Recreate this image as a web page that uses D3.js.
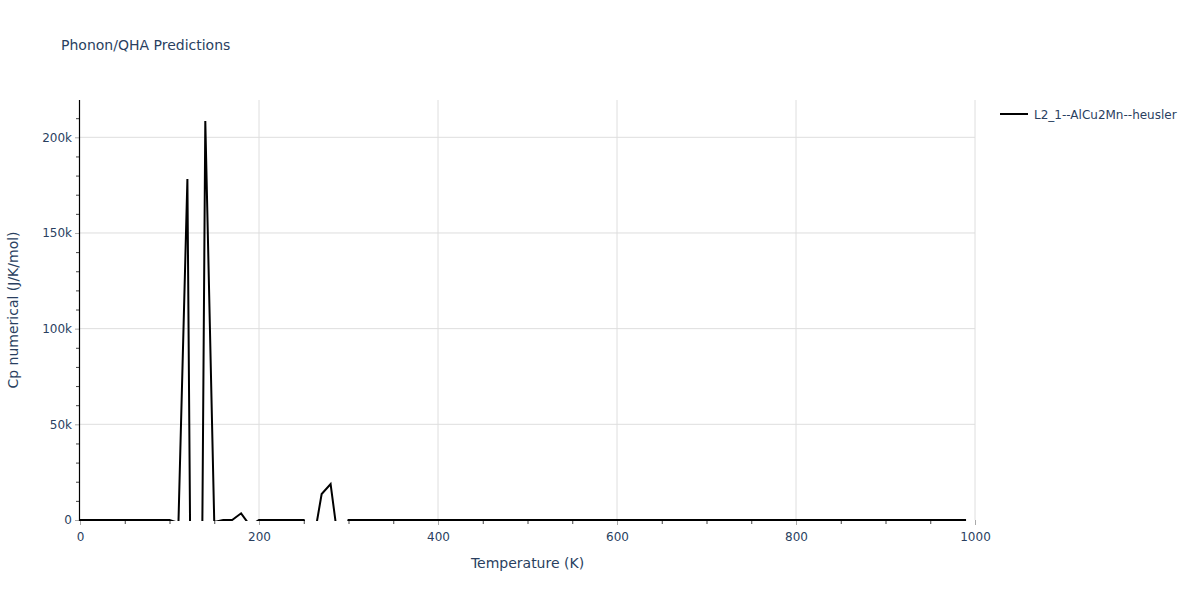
<!DOCTYPE html>
<html>
<head>
<meta charset="utf-8">
<script src="https://cdn.jsdelivr.net/npm/d3@7"></script>
<style>
  html, body { margin: 0; padding: 0; background: #fff; }
  text { font-family: "DejaVu Sans", Verdana, sans-serif; fill: #2a3f5f; }
</style>
</head>
<body>
<svg id="chart" width="1200" height="600"></svg>
<script>
// ---- data ----
const chartTitle = "Phonon/QHA Predictions";
const seriesName = "L2_1--AlCu2Mn--heusler";
const xLabel = "Temperature (K)";
const yLabel = "Cp numerical (J/K/mol)";

const temperatures = [
  0, 10, 20, 30, 40, 50, 60, 70, 80, 90,
  100, 110, 120, 130, 140, 150, 160, 170, 180, 190,
  200, 210, 220, 230, 240, 250, 260, 270, 280, 290,
  300, 310, 320, 330, 340, 350, 360, 370, 380, 390,
  400, 410, 420, 430, 440, 450, 460, 470, 480, 490,
  500, 510, 520, 530, 540, 550, 560, 570, 580, 590,
  600, 610, 620, 630, 640, 650, 660, 670, 680, 690,
  700, 710, 720, 730, 740, 750, 760, 770, 780, 790,
  800, 810, 820, 830, 840, 850, 860, 870, 880, 890,
  900, 910, 920, 930, 940, 950, 960, 970, 980, 990
];
const cpValues = [
  0, 0, 0, 0, 0, 0, 0, 0, 0, 0,
  0, -1500, 178200, -430000, 208500, -1000, 0, 0, 3500, -3000,
  0, 0, 0, 0, 0, 0, -13600, 13600, 18800, -16700,
  0, 0, 0, 0, 0, 0, 0, 0, 0, 0,
  0, 0, 0, 0, 0, 0, 0, 0, 0, 0,
  0, 0, 0, 0, 0, 0, 0, 0, 0, 0,
  0, 0, 0, 0, 0, 0, 0, 0, 0, 0,
  0, 0, 0, 0, 0, 0, 0, 0, 0, 0,
  0, 0, 0, 0, 0, 0, 0, 0, 0, 0,
  0, 0, 0, 0, 0, 0, 0, 0, 0, 0
];

const xTicks = [0, 200, 400, 600, 800, 1000];
const xMinorTicks = [50, 100, 150, 250, 300, 350, 450, 500, 550, 650, 700, 750, 850, 900, 950];
const yTicks = [0, 50000, 100000, 150000, 200000];
const yTickLabels = ["0", "50k", "100k", "150k", "200k"];
const yMinorTicks = [10000, 20000, 30000, 40000, 60000, 70000, 80000, 90000, 110000, 120000,
  130000, 140000, 160000, 170000, 180000, 190000, 210000];
const xDomain = [0, 1000];
const yDomain = [0, 219500];

// ---- layout ----
const svg = d3.select("#chart");
const L = 80, R = 975, T = 100, B = 520;
const FONT = '"DejaVu Sans", Verdana, sans-serif';

const x = d3.scaleLinear().domain(xDomain).range([L, R]);
const y = d3.scaleLinear().domain(yDomain).range([B, T]);

// gridlines
svg.append("g").selectAll("line").data(xTicks.filter(d => d > 0))
  .join("line")
  .attr("x1", d => x(d)).attr("x2", d => x(d))
  .attr("y1", T).attr("y2", B)
  .attr("stroke", "#dedede").attr("stroke-width", 1);
svg.append("g").selectAll("line").data(yTicks.filter(d => d > 0))
  .join("line")
  .attr("x1", L).attr("x2", R)
  .attr("y1", d => y(d)).attr("y2", d => y(d))
  .attr("stroke", "#dedede").attr("stroke-width", 1);

// x axis ticks
const xAxis = svg.append("g").attr("transform", `translate(0,${B})`);
xAxis.call(d3.axisBottom(x).tickValues(xTicks).tickSize(5).tickPadding(7).tickFormat(d3.format("d")));
xAxis.select(".domain").remove();
xAxis.selectAll(".tick line").attr("stroke", "#aaa");
xAxis.selectAll(".tick text").attr("font-size", 12).attr("fill", "#2a3f5f")
  .style("font-family", FONT);
const xMinor = svg.append("g").attr("transform", `translate(0,${B})`);
xMinor.call(d3.axisBottom(x).tickValues(xMinorTicks).tickSize(4).tickFormat(""));
xMinor.select(".domain").remove();
xMinor.selectAll(".tick line").attr("stroke", "#444");

// y axis
const yAxis = svg.append("g").attr("transform", `translate(${L},0)`);
yAxis.call(d3.axisLeft(y).tickValues(yTicks).tickSize(5).tickPadding(3)
  .tickFormat((d, i) => yTickLabels[i]));
yAxis.select(".domain").remove();
yAxis.selectAll(".tick line").attr("stroke", "#aaa");
yAxis.selectAll(".tick text").attr("font-size", 12).attr("fill", "#2a3f5f")
  .style("font-family", FONT);
const yMinor = svg.append("g").attr("transform", `translate(${L},0)`);
yMinor.call(d3.axisLeft(y).tickValues(yMinorTicks).tickSize(4).tickFormat(""));
yMinor.select(".domain").remove();
yMinor.selectAll(".tick line").attr("stroke", "#444");

// y axis line
svg.append("line")
  .attr("x1", L - 0.5).attr("x2", L - 0.5)
  .attr("y1", T).attr("y2", B + 1)
  .attr("stroke", "#000").attr("stroke-width", 1.2);

// clip
svg.append("defs").append("clipPath").attr("id", "plotclip")
  .append("rect").attr("x", L).attr("y", T).attr("width", R - L).attr("height", B - T + 1);

// data line
const pts = temperatures.map((t, i) => [t, cpValues[i]]);
const line = d3.line().x(d => x(d[0])).y(d => y(d[1]));
svg.append("path")
  .datum(pts)
  .attr("clip-path", "url(#plotclip)")
  .attr("d", line)
  .attr("fill", "none")
  .attr("stroke", "#000")
  .attr("stroke-width", 2);

// titles
svg.append("text").attr("x", 61).attr("y", 50)
  .attr("font-size", 14).text(chartTitle);
svg.append("text").attr("x", (L + R) / 2).attr("y", 568)
  .attr("text-anchor", "middle").attr("font-size", 14).text(xLabel);
svg.append("text")
  .attr("transform", `translate(18,${(T + B) / 2}) rotate(-90)`)
  .attr("text-anchor", "middle").attr("font-size", 14).text(yLabel);

// legend
const lg = svg.append("g").attr("transform", "translate(1000,114)");
lg.append("line").attr("x1", 0).attr("x2", 28).attr("y1", 0).attr("y2", 0)
  .attr("stroke", "#000").attr("stroke-width", 2);
lg.append("text").attr("x", 34).attr("y", 4.5).attr("font-size", 12).text(seriesName);
</script>
</body>
</html>
